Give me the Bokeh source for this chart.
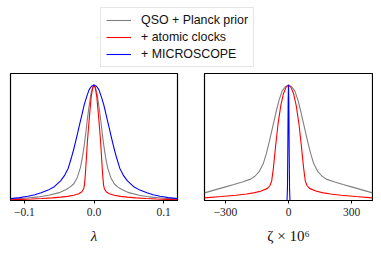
from bokeh.plotting import figure
from bokeh.models import Range1d, FixedTicker, Legend, LegendItem
from bokeh.layouts import column, row
from bokeh.embed import file_html
from bokeh.resources import INLINE

# ---------------- data ----------------
series_labels = ["QSO + Planck prior", "+ atomic clocks", "+ MICROSCOPE"]

# left panel: lambda
lam_gray_x = [-0.12, -0.10, -0.08, -0.065, -0.05, -0.04, -0.034, -0.029, -0.024, -0.0195,
              -0.0165, -0.014, -0.0115, -0.0092, -0.0065, -0.0043, -0.002, 0.0,
              0.002, 0.0043, 0.0065, 0.0092, 0.0115, 0.014, 0.0165, 0.0195, 0.024,
              0.029, 0.034, 0.04, 0.05, 0.065, 0.08, 0.10, 0.12]
lam_gray_y = [0.012, 0.02, 0.031, 0.045, 0.068, 0.095, 0.118, 0.145, 0.20, 0.285,
              0.38, 0.48, 0.60, 0.72, 0.84, 0.925, 0.98, 1.0,
              0.98, 0.925, 0.84, 0.72, 0.60, 0.48, 0.38, 0.285, 0.20,
              0.145, 0.118, 0.095, 0.068, 0.045, 0.031, 0.02, 0.012]

lam_red_x = [-0.12, -0.105, -0.09, -0.075, -0.06, -0.048, -0.038, -0.029, -0.022, -0.0175,
             -0.015, -0.0138, -0.0125, -0.011, -0.0096, -0.0075, -0.0055, -0.004, -0.002, 0.0,
             0.002, 0.004, 0.0055, 0.0075, 0.0096, 0.011, 0.0125, 0.0138, 0.015,
             0.0175, 0.022, 0.029, 0.038, 0.048, 0.06, 0.075, 0.09, 0.105, 0.12]
lam_red_y = [0.007, 0.01, 0.013, 0.017, 0.023, 0.029, 0.036, 0.045, 0.058, 0.075,
             0.10, 0.13, 0.22, 0.36, 0.50, 0.66, 0.80, 0.90, 0.97, 1.0,
             0.97, 0.90, 0.80, 0.66, 0.50, 0.36, 0.22, 0.13, 0.10,
             0.075, 0.058, 0.045, 0.036, 0.029, 0.023, 0.017, 0.013, 0.01, 0.007]

lam_blue_x = [-0.12, -0.107, -0.095, -0.085, -0.076, -0.066, -0.057, -0.048, -0.042, -0.037,
              -0.0325, -0.028, -0.0245, -0.021, -0.0175, -0.014, -0.0105, -0.007, -0.0035, 0.0,
              0.0035, 0.007, 0.0105, 0.014, 0.0175, 0.021, 0.0245, 0.028, 0.0325,
              0.037, 0.042, 0.048, 0.057, 0.066, 0.076, 0.085, 0.095, 0.107, 0.12]
lam_blue_y = [0.016, 0.025, 0.037, 0.05, 0.067, 0.09, 0.12, 0.17, 0.22, 0.28,
              0.37, 0.47, 0.56, 0.65, 0.74, 0.83, 0.90, 0.96, 0.99, 1.0,
              0.99, 0.96, 0.90, 0.83, 0.74, 0.65, 0.56, 0.47, 0.37,
              0.28, 0.22, 0.17, 0.12, 0.09, 0.067, 0.05, 0.037, 0.025, 0.016]

# right panel: zeta x 1e6
zeta_gray_x = [-400, -350, -300, -260, -220, -180, -160, -140, -120, -105, -90, -75, -60, -45,
               -30, -15, 0, 15, 30, 45, 60, 75, 90, 105, 120, 140, 160, 180, 220, 260,
               300, 350, 400]
zeta_gray_y = [0.066, 0.092, 0.118, 0.138, 0.16, 0.185, 0.21, 0.25, 0.32, 0.41, 0.52, 0.64,
               0.76, 0.87, 0.95, 0.985, 1.0, 0.985, 0.95, 0.87, 0.76, 0.64, 0.52, 0.41,
               0.32, 0.25, 0.21, 0.185, 0.16, 0.138, 0.118, 0.092, 0.066]

zeta_red_x = [-400, -320, -250, -200, -160, -130, -100, -88, -80, -72, -62, -50, -37, -25,
              -12, 0, 12, 25, 37, 50, 62, 72, 80, 88, 100, 130, 160, 200, 250, 320, 400]
zeta_red_y = [0.023, 0.034, 0.046, 0.056, 0.068, 0.082, 0.105, 0.13, 0.17, 0.28, 0.46,
              0.66, 0.82, 0.92, 0.98, 1.0, 0.98, 0.92, 0.82, 0.66, 0.46, 0.28, 0.17,
              0.13, 0.105, 0.082, 0.068, 0.056, 0.046, 0.034, 0.023]

zeta_blue_x = [-7, -5, -3, -1.5, 0, 1.5, 3, 5, 7]
zeta_blue_y = [0.0, 0.1, 0.5, 0.88, 1.0, 0.88, 0.5, 0.1, 0.0]

lam_ticks = [-0.1, 0.0, 0.1]
lam_tick_labels = ["\u22120.1", "0.0", "0.1"]
zeta_ticks = [-300, 0, 300]
zeta_tick_labels = ["\u2212300", "0", "300"]

# ---------------- styling ----------------
C_GRAY, C_RED, C_BLUE = "#808080", "#ff0000", "#0000ff"
LW = 1.1
SERIF = "Liberation Serif"


def panel(xr, ticks, labels, xlabel, label_style, width, mb_left, mb_right):
    p = figure(width=width, height=180, output_backend="svg", toolbar_location=None,
               x_range=Range1d(*xr), y_range=Range1d(0, 1.1), y_axis_location=None,
               min_border_left=mb_left, min_border_right=mb_right,
               min_border_top=3, min_border_bottom=50)
    p.grid.visible = False
    p.outline_line_color = "black"
    p.outline_line_width = 1.2
    p.background_fill_color = "white"
    p.border_fill_color = "white"
    ax = p.xaxis[0]
    ax.ticker = FixedTicker(ticks=ticks)
    ax.major_label_overrides = dict(zip(ticks, labels))
    ax.minor_tick_line_color = None
    ax.major_tick_in = 0
    ax.major_tick_out = 3
    ax.major_tick_line_color = "black"
    ax.axis_line_color = "black"
    ax.major_label_text_font = SERIF
    ax.major_label_text_font_size = "11.5px"
    ax.major_label_text_color = "#222222"
    ax.major_label_standoff = 4
    ax.axis_label = xlabel
    ax.axis_label_text_font = SERIF
    ax.axis_label_text_font_size = "15px"
    ax.axis_label_text_font_style = label_style
    ax.axis_label_text_color = "#111111"
    ax.axis_label_standoff = 9
    return p


p1 = panel((-0.12, 0.12), lam_ticks, lam_tick_labels, "\u03bb", "italic", 190, 10, 13)
p1.line(lam_gray_x, lam_gray_y, line_color=C_GRAY, line_width=LW)
p1.line(lam_red_x, lam_red_y, line_color=C_RED, line_width=LW)
p1.line(lam_blue_x, lam_blue_y, line_color=C_BLUE, line_width=LW)

p2 = panel((-400, 400), zeta_ticks, zeta_tick_labels, "\u03b6 \u00d7 10\u2076", "normal", 183, 14, 1)
p2.line(zeta_gray_x, zeta_gray_y, line_color=C_GRAY, line_width=LW)
p2.line(zeta_red_x, zeta_red_y, line_color=C_RED, line_width=LW)
p2.line(zeta_blue_x, zeta_blue_y, line_color=C_BLUE, line_width=LW)

# legend figure on top (its lines use the left-panel data, kept outside the visible range)
pl = figure(width=373, height=70, output_backend="svg", toolbar_location=None,
            x_range=Range1d(0, 1), y_range=Range1d(5, 6),
            x_axis_location=None, y_axis_location=None,
            min_border=0)
pl.grid.visible = False
pl.outline_line_color = None
rs = [
    pl.line(lam_gray_x, lam_gray_y, line_color=C_GRAY, line_width=LW),
    pl.line(lam_red_x, lam_red_y, line_color=C_RED, line_width=LW),
    pl.line(lam_blue_x, lam_blue_y, line_color=C_BLUE, line_width=LW),
]
legend = Legend(items=[LegendItem(label=lab, renderers=[r]) for lab, r in zip(series_labels, rs)],
                location=(100, 3), orientation="vertical",
                padding=5, margin=0, spacing=3,
                glyph_width=25, glyph_height=14, label_height=14, label_standoff=10,
                label_text_font="Liberation Sans", label_text_font_size="12.4px",
                label_text_color="#111111",
                border_line_color="#cccccc", border_line_width=1,
                background_fill_color="white", background_fill_alpha=1.0)
pl.add_layout(legend, "center")

layout = column(pl, row(p1, p2, spacing=0), spacing=0)

open("out.html", "w").write(file_html(layout, INLINE))
